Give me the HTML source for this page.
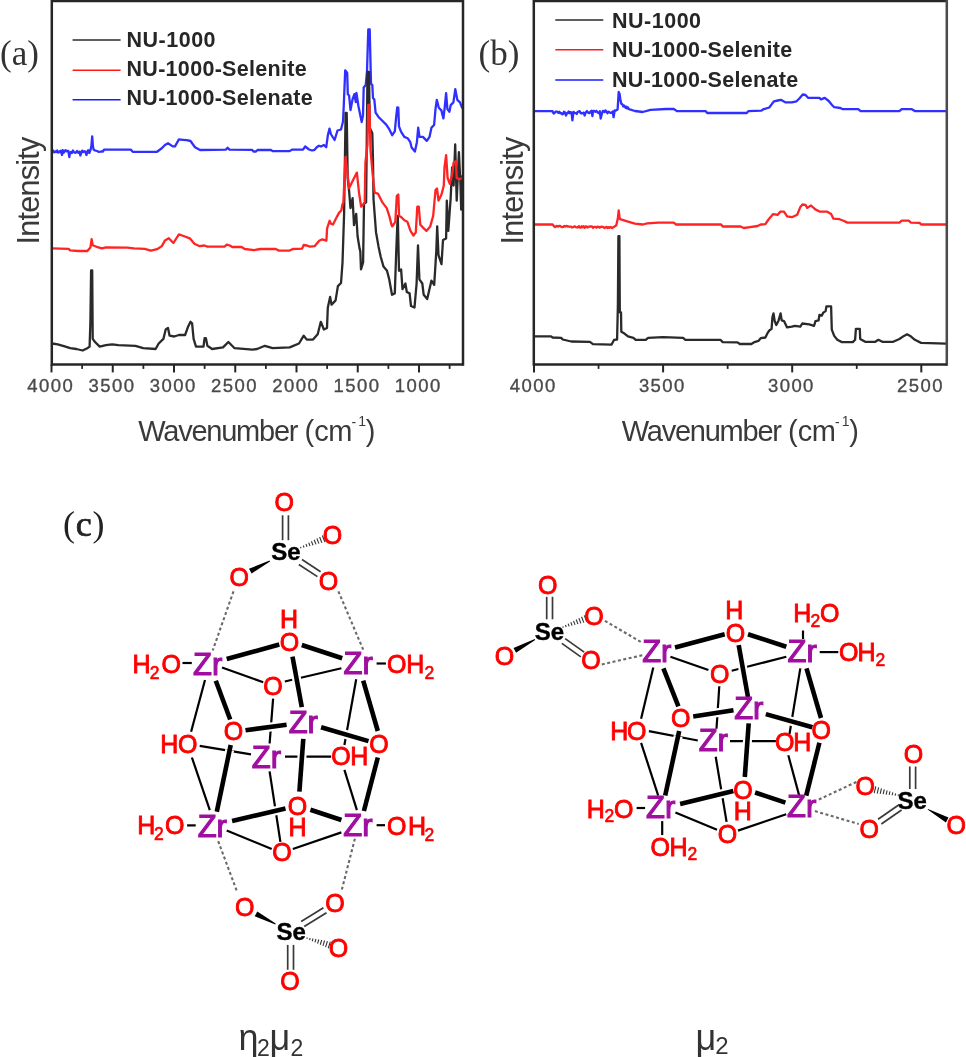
<!DOCTYPE html>
<html><head><meta charset="utf-8"><title>NU-1000 FTIR spectra and selenium binding</title><style>html,body{margin:0;padding:0;background:#fff;}svg{display:block;filter:blur(0.45px);}</style></head><body>
<svg width="966" height="1057" viewBox="0 0 966 1057">
<rect width="966" height="1057" fill="#fff"/>
<polyline points="52.0,150.5 53.0,150.5 54.2,152.3 55.1,151.5 56.0,152.0 57.2,150.4 57.9,152.5 58.9,152.3 59.6,151.4 60.7,150.8 62.0,155.0 62.7,150.2 63.7,152.8 64.7,150.7 65.6,150.2 66.4,151.4 67.4,150.8 68.3,150.8 69.3,157.0 70.0,152.5 71.0,152.0 71.8,153.0 73.0,150.5 73.9,152.2 75.1,152.8 76.0,152.5 77.1,151.0 78.2,152.7 79.4,151.6 80.4,155.5 81.3,152.4 82.2,150.6 83.2,152.1 84.4,151.2 85.3,151.6 86.5,155.0 87.4,151.5 88.1,150.3 89.3,153.0 90.6,149.5 91.4,146.0 92.2,136.3 92.9,146.0 93.6,149.5 95.0,150.5 97.0,151.0 99.0,152.0 101.0,151.5 103.0,151.5 104.0,149.6 130.7,149.6 132.8,151.8 157.0,151.8 161.8,148.3 165.0,145.0 168.0,143.3 172.7,146.4 175.0,146.4 178.9,139.4 183.0,139.8 186.6,140.2 190.5,141.0 195.0,147.2 200.0,150.0 226.0,149.6 227.6,147.7 229.5,149.6 252.0,149.8 253.5,151.5 256.0,151.5 257.5,150.0 271.0,150.0 272.6,151.1 289.7,151.1 292.0,149.6 303.0,149.6 305.2,146.5 309.0,149.5 312.0,150.5 314.6,149.8 317.0,147.0 319.0,145.7 321.0,146.5 323.9,145.0 326.2,147.3 327.8,135.6 329.5,128.6 330.8,134.0 334.6,140.0 337.5,130.5 341.0,129.5 343.0,121.5 343.8,104.8 345.2,70.3 347.2,73.0 347.8,94.2 349.1,95.5 350.5,110.0 352.5,99.5 354.4,94.2 355.8,102.0 356.4,92.8 358.4,106.0 361.7,122.0 363.0,115.4 363.7,87.5 365.7,85.0 367.0,71.7 368.3,29.3 369.7,29.3 371.0,83.6 372.3,85.0 373.0,98.0 374.3,99.5 375.6,112.7 378.3,116.7 382.3,120.7 386.2,124.6 388.9,128.6 392.2,135.2 394.8,131.3 396.2,116.7 397.2,107.5 398.3,107.7 399.0,126.3 401.0,131.6 404.3,136.9 407.6,138.2 410.3,142.2 411.6,147.5 414.9,151.5 416.9,142.2 418.2,127.6 419.5,136.9 422.9,136.9 426.8,140.9 429.5,136.9 431.5,127.6 434.1,125.0 435.5,109.1 436.8,99.8 438.8,107.7 441.4,110.4 443.4,118.4 444.7,107.7 446.1,93.2 447.4,109.1 449.4,111.7 450.7,105.1 453.4,102.4 455.3,89.2 457.3,99.8 460.0,102.4 462.0,107.7" fill="none" stroke="#2f2fff" stroke-width="2.3" stroke-linejoin="round" stroke-linecap="round" />
<polyline points="52.0,343.5 57.8,344.3 65.5,346.6 70.2,348.2 76.4,349.0 82.6,350.5 87.3,348.2 89.6,346.6 90.4,321.8 91.1,270.5 92.2,270.5 92.7,338.9 95.0,342.0 99.7,346.6 105.9,345.1 112.1,344.3 118.3,345.1 135.4,345.8 143.2,348.2 155.6,349.0 158.7,343.5 163.4,338.9 165.7,329.5 168.0,328.0 169.6,335.7 174.2,336.5 178.9,335.0 185.1,335.0 188.2,326.4 190.5,321.8 192.1,323.3 193.6,338.9 196.0,346.6 203.5,346.6 204.6,338.1 205.9,338.1 207.4,345.8 212.1,349.0 223.0,347.4 228.4,342.0 234.6,348.2 252.5,349.7 257.1,349.0 264.9,345.8 272.6,348.2 289.7,347.4 299.0,343.5 303.7,335.7 306.8,339.6 313.0,339.6 317.7,334.2 320.8,321.8 323.9,329.5 327.0,328.0 327.8,307.8 330.1,296.9 331.6,304.7 335.6,300.4 337.9,286.1 341.0,283.0 342.5,262.8 344.1,213.8 345.6,113.0 346.7,113.0 347.7,178.3 349.1,191.0 350.5,208.1 352.6,198.2 354.0,225.1 356.2,213.8 357.6,236.5 359.7,249.2 360.3,251.1 361.0,269.4 363.1,262.4 364.0,203.8 366.1,202.4 367.5,72.0 369.0,72.0 369.8,128.0 372.3,133.3 373.0,160.0 373.5,199.0 376.0,232.2 378.6,246.9 380.7,256.8 383.5,266.6 387.0,270.8 389.2,279.3 392.0,294.8 394.8,293.4 396.2,252.5 397.3,225.1 397.8,216.0 399.0,270.8 401.1,269.4 402.5,289.2 405.4,283.5 406.8,292.0 409.6,293.4 411.0,306.0 414.5,307.5 416.6,283.5 418.0,245.5 419.4,279.3 422.3,283.5 423.7,294.8 427.2,299.0 431.4,280.7 434.2,284.9 436.3,251.1 437.2,226.4 438.5,255.2 441.5,264.2 443.0,240.0 446.1,238.5 446.8,200.6 448.3,230.9 450.6,199.1 452.1,167.3 453.6,185.5 455.2,144.5 456.7,200.6 458.9,152.1 460.5,185.5 461.2,209.7 462.0,176.4" fill="none" stroke="#2a2a2a" stroke-width="2.3" stroke-linejoin="round" stroke-linecap="round" />
<polyline points="52.0,248.4 68.6,248.9 70.2,250.4 78.0,251.0 87.3,251.0 90.4,247.6 91.6,239.1 92.7,245.3 96.6,246.8 102.0,248.4 105.9,247.3 127.6,247.6 133.9,248.4 144.7,248.9 150.9,250.7 157.1,249.2 161.8,246.1 164.9,240.6 168.8,238.3 173.4,243.0 178.9,234.4 183.5,236.0 189.8,238.3 194.4,243.7 199.7,246.2 204.3,245.5 207.4,246.6 224.5,246.6 226.8,244.7 229.9,245.5 232.3,247.0 241.6,247.0 244.7,249.0 254.0,250.1 260.2,249.0 275.7,249.0 278.9,250.6 289.7,250.6 292.8,249.0 302.1,248.6 303.7,245.0 306.8,245.5 309.9,246.6 314.6,246.2 319.2,240.8 322.3,239.3 326.4,240.7 327.1,228.4 329.6,220.8 331.0,223.7 333.0,224.5 337.0,216.6 339.0,212.9 341.3,210.5 342.5,204.3 343.4,202.4 344.1,186.8 345.5,157.0 347.7,175.5 349.1,188.2 352.6,181.1 356.9,172.6 359.0,192.5 361.1,206.7 364.7,202.4 365.4,162.7 367.5,144.3 368.2,105.0 369.4,105.0 370.5,150.0 372.5,172.6 374.6,192.5 378.2,193.9 382.4,202.4 386.7,208.1 389.5,216.6 391.6,225.1 392.3,226.4 395.3,221.8 396.8,196.0 398.3,194.5 399.1,215.8 401.4,217.3 404.4,220.3 407.4,221.8 410.5,230.9 413.5,235.5 415.8,232.4 417.3,206.7 418.8,206.7 420.3,224.8 423.3,227.9 426.4,230.9 430.2,226.4 433.2,215.8 435.5,190.0 437.0,188.5 438.5,200.6 441.5,194.5 443.8,185.5 444.5,167.3 446.1,155.2 447.6,177.9 449.8,183.9 452.1,174.8 453.6,162.7 455.9,161.2 456.7,177.9 459.7,179.4 462.0,177.9" fill="none" stroke="#ff2424" stroke-width="2.3" stroke-linejoin="round" stroke-linecap="round" />
<line x1="51.8" y1="1.0" x2="463.0" y2="1.0" stroke="#262626" stroke-width="2.5"/>
<line x1="463.0" y1="-0.25" x2="463.0" y2="365.65" stroke="#262626" stroke-width="2.5"/>
<line x1="51.8" y1="-0.25" x2="51.8" y2="365.65" stroke="#262626" stroke-width="2.5"/>
<line x1="51.8" y1="364.4" x2="463.0" y2="364.4" stroke="#262626" stroke-width="2.5"/>
<line x1="51.5" y1="364.4" x2="51.5" y2="372.4" stroke="#262626" stroke-width="2.0"/>
<line x1="112.75" y1="364.4" x2="112.75" y2="372.4" stroke="#262626" stroke-width="2.0"/>
<line x1="174.0" y1="364.4" x2="174.0" y2="372.4" stroke="#262626" stroke-width="2.0"/>
<line x1="235.25" y1="364.4" x2="235.25" y2="372.4" stroke="#262626" stroke-width="2.0"/>
<line x1="296.5" y1="364.4" x2="296.5" y2="372.4" stroke="#262626" stroke-width="2.0"/>
<line x1="357.75" y1="364.4" x2="357.75" y2="372.4" stroke="#262626" stroke-width="2.0"/>
<line x1="419.0" y1="364.4" x2="419.0" y2="372.4" stroke="#262626" stroke-width="2.0"/>
<line x1="82.125" y1="364.4" x2="82.125" y2="368.9" stroke="#262626" stroke-width="1.8"/>
<line x1="143.375" y1="364.4" x2="143.375" y2="368.9" stroke="#262626" stroke-width="1.8"/>
<line x1="204.625" y1="364.4" x2="204.625" y2="368.9" stroke="#262626" stroke-width="1.8"/>
<line x1="265.875" y1="364.4" x2="265.875" y2="368.9" stroke="#262626" stroke-width="1.8"/>
<line x1="327.125" y1="364.4" x2="327.125" y2="368.9" stroke="#262626" stroke-width="1.8"/>
<line x1="388.375" y1="364.4" x2="388.375" y2="368.9" stroke="#262626" stroke-width="1.8"/>
<line x1="449.625" y1="364.4" x2="449.625" y2="368.9" stroke="#262626" stroke-width="1.8"/>
<text x="50.7" y="392.3" font-size="18.5" letter-spacing="1.4" text-anchor="middle" fill="#4a4a4a" stroke="#4a4a4a" stroke-width="0.35" font-family="'Liberation Sans', Arial, Helvetica, sans-serif">4000</text>
<text x="111.95" y="392.3" font-size="18.5" letter-spacing="1.4" text-anchor="middle" fill="#4a4a4a" stroke="#4a4a4a" stroke-width="0.35" font-family="'Liberation Sans', Arial, Helvetica, sans-serif">3500</text>
<text x="173.2" y="392.3" font-size="18.5" letter-spacing="1.4" text-anchor="middle" fill="#4a4a4a" stroke="#4a4a4a" stroke-width="0.35" font-family="'Liberation Sans', Arial, Helvetica, sans-serif">3000</text>
<text x="234.45" y="392.3" font-size="18.5" letter-spacing="1.4" text-anchor="middle" fill="#4a4a4a" stroke="#4a4a4a" stroke-width="0.35" font-family="'Liberation Sans', Arial, Helvetica, sans-serif">2500</text>
<text x="295.7" y="392.3" font-size="18.5" letter-spacing="1.4" text-anchor="middle" fill="#4a4a4a" stroke="#4a4a4a" stroke-width="0.35" font-family="'Liberation Sans', Arial, Helvetica, sans-serif">2000</text>
<text x="356.95" y="392.3" font-size="18.5" letter-spacing="1.4" text-anchor="middle" fill="#4a4a4a" stroke="#4a4a4a" stroke-width="0.35" font-family="'Liberation Sans', Arial, Helvetica, sans-serif">1500</text>
<text x="418.2" y="392.3" font-size="18.5" letter-spacing="1.4" text-anchor="middle" fill="#4a4a4a" stroke="#4a4a4a" stroke-width="0.35" font-family="'Liberation Sans', Arial, Helvetica, sans-serif">1000</text>
<line x1="72.6" y1="40.1" x2="120.6" y2="40.1" stroke="#2a2a2a" stroke-width="1.5"/>
<text x="126.5" y="46.5" font-size="21.5" font-weight="bold" letter-spacing="0.5" fill="#262626" font-family="'Liberation Sans', Arial, Helvetica, sans-serif">NU-1000</text>
<line x1="72.6" y1="70.3" x2="120.6" y2="70.3" stroke="#ff1a1a" stroke-width="1.5"/>
<text x="126.5" y="75.9" font-size="21.5" font-weight="bold" letter-spacing="0.3" fill="#262626" font-family="'Liberation Sans', Arial, Helvetica, sans-serif">NU-1000-Selenite</text>
<line x1="72.6" y1="99.7" x2="120.6" y2="99.7" stroke="#1a1aff" stroke-width="1.5"/>
<text x="126.5" y="105.2" font-size="21.5" font-weight="bold" letter-spacing="0.3" fill="#262626" font-family="'Liberation Sans', Arial, Helvetica, sans-serif">NU-1000-Selenate</text>
<text x="0" y="65" font-size="35" fill="#333" font-family="'Liberation Serif', 'Times New Roman', serif">(a)</text>
<text y="440.5" font-size="29" letter-spacing="-1.25" fill="#3a3a3a" font-family="'Liberation Sans', Arial, Helvetica, sans-serif"><tspan x="138.3">Wavenumber</tspan><tspan x="304.6">(</tspan><tspan x="314.2" letter-spacing="-0.4">cm</tspan><tspan x="351.6" dy="-13.5" font-size="14">-</tspan><tspan x="358.2" dy="-1" font-size="14">1</tspan><tspan x="365.8" dy="14.5">)</tspan></text>
<text transform="translate(39.0,191.0) rotate(-90)" font-size="30.6" letter-spacing="-0.75" text-anchor="middle" fill="#3a3a3a" font-family="'Liberation Sans', Arial, Helvetica, sans-serif">Intensity</text>
<polyline points="535.0,111.2 552.6,111.2 553.0,112.6 553.8,113.5 554.5,113.2 555.5,111.7 556.5,111.6 557.4,111.7 558.2,112.8 559.4,111.8 560.2,113.3 561.5,113.1 562.4,114.3 563.1,113.9 564.0,111.8 564.8,112.3 566.0,115.5 567.0,113.2 567.9,112.9 568.7,111.4 569.5,113.3 570.5,112.1 571.5,112.5 572.4,120.4 573.5,111.9 574.6,112.7 575.8,113.2 576.7,114.0 577.4,112.3 578.6,111.5 579.6,111.1 580.7,113.2 581.7,113.5 582.6,113.0 583.7,112.6 584.6,115.5 585.9,112.2 587.0,111.0 588.1,112.7 589.4,113.2 590.3,111.9 591.4,110.8 592.4,116.0 593.1,110.8 594.3,111.0 595.1,111.8 596.4,110.8 597.3,112.2 598.6,113.0 599.8,111.3 600.7,118.6 602.0,113.3 602.8,111.0 603.6,111.1 604.6,112.1 605.4,110.4 606.4,111.4 607.4,113.2 608.6,111.8 609.6,112.3 610.4,112.9 611.5,112.8 612.7,111.4 613.6,117.2 614.7,110.3 615.5,110.7 617.6,109.5 618.7,92.0 619.5,93.5 620.3,99.0 621.2,103.6 622.4,104.5 623.3,106.5 624.2,105.5 625.5,107.8 626.5,106.6 627.2,108.5 628.0,107.5 628.9,109.2 634.9,111.0 642.7,112.0 650.5,109.8 666.0,109.0 673.8,109.0 676.9,111.1 705.6,111.1 707.2,113.0 746.8,113.0 748.3,111.1 761.5,110.6 763.9,109.1 769.3,107.5 771.6,104.4 774.0,101.3 777.8,100.5 780.9,99.8 785.6,102.4 791.8,102.4 796.5,101.3 799.6,98.2 802.7,94.5 805.5,95.0 808.0,97.8 819.4,97.9 821.0,99.4 824.8,97.9 828.7,101.0 831.8,104.8 834.2,107.2 840.4,108.0 842.7,109.2 858.2,109.2 860.6,111.1 899.4,111.1 901.7,109.2 911.8,109.2 914.9,111.1 946.0,111.1" fill="none" stroke="#2f2fff" stroke-width="2.3" stroke-linejoin="round" stroke-linecap="round" />
<polyline points="535.0,336.4 551.1,336.4 552.6,337.5 561.2,337.9 562.7,339.5 571.3,341.5 589.9,341.8 593.0,344.1 611.6,344.6 614.0,339.9 617.1,339.5 617.9,304.5 618.4,236.2 619.4,236.2 619.8,312.3 621.0,312.3 621.3,331.7 624.1,333.3 628.0,336.4 633.4,337.9 635.7,339.9 645.8,339.9 648.1,337.9 662.9,337.1 683.1,337.9 685.4,339.8 720.4,339.8 722.7,342.1 737.5,342.4 739.8,344.0 751.4,344.0 754.5,342.1 758.4,340.9 760.7,338.2 765.4,337.5 767.7,332.8 769.3,330.5 771.6,328.9 772.4,317.3 773.5,313.4 774.7,321.1 776.3,325.0 778.6,320.4 780.6,313.4 781.7,320.4 784.0,321.1 787.1,327.4 791.8,326.6 794.9,325.8 800.3,326.6 802.3,323.5 809.3,324.3 814.0,325.8 815.5,321.1 818.6,320.4 819.4,314.9 821.7,315.7 823.3,312.6 825.6,311.1 826.4,306.4 831.1,306.4 831.8,329.7 834.2,335.9 837.3,339.8 841.9,342.1 852.8,342.1 855.1,339.8 855.9,328.9 859.8,328.9 860.2,339.0 865.2,341.8 875.3,341.8 878.4,339.8 882.3,341.8 893.2,341.8 899.4,339.0 904.0,335.9 907.1,334.3 910.2,335.9 914.9,339.8 921.1,342.9 946.0,343.7" fill="none" stroke="#2a2a2a" stroke-width="2.3" stroke-linejoin="round" stroke-linecap="round" />
<polyline points="535.0,224.5 552.6,224.5 554.0,226.3 555.0,227.0 556.0,226.4 557.1,225.9 558.1,226.6 559.3,225.9 560.1,225.9 561.3,226.8 562.0,227.2 563.3,226.8 564.4,226.0 565.1,226.6 565.8,226.1 566.7,225.9 567.7,226.5 568.9,226.7 569.9,226.7 571.0,226.6 571.9,227.5 573.2,227.2 574.3,226.5 575.2,226.5 575.9,227.2 576.9,227.3 577.8,227.5 579.0,226.1 579.8,227.5 580.8,227.6 581.7,226.3 582.8,227.3 583.7,226.3 584.6,227.7 585.7,226.4 586.6,226.4 587.3,227.5 588.1,227.1 589.1,226.6 590.2,226.5 591.3,226.5 592.3,226.7 593.1,227.8 594.3,226.9 595.5,226.8 596.5,227.7 597.6,226.6 598.9,226.8 599.7,227.7 600.6,227.0 601.4,226.7 602.4,226.9 603.5,227.2 604.4,228.0 605.4,227.5 606.7,226.9 607.4,228.0 608.6,227.1 609.4,227.8 610.7,227.0 612.0,228.1 613.0,227.4 613.8,226.9 616.3,225.3 617.9,218.0 618.7,210.5 619.5,217.0 619.9,219.1 622.5,219.8 627.2,221.4 634.9,223.7 642.7,224.5 647.4,223.3 658.2,222.6 673.8,222.6 676.1,224.5 721.1,224.5 722.7,226.5 740.6,226.5 743.7,228.0 748.3,227.3 757.6,226.0 760.7,224.5 765.4,224.2 768.5,219.5 773.2,214.1 777.8,214.8 780.2,211.7 784.0,211.7 787.1,216.4 791.8,217.2 797.2,214.8 800.3,207.1 802.5,204.5 805.5,204.8 807.2,207.9 811.0,205.5 815.3,209.4 820.0,211.7 827.2,211.7 831.1,214.1 833.4,218.7 839.6,219.2 843.5,220.7 847.4,222.6 899.4,222.6 901.7,220.7 908.7,220.7 911.0,222.6 919.6,222.9 921.1,224.5 946.0,224.5" fill="none" stroke="#ff2424" stroke-width="2.3" stroke-linejoin="round" stroke-linecap="round" />
<line x1="533.8" y1="1.0" x2="946.8" y2="1.0" stroke="#262626" stroke-width="2.5"/>
<line x1="946.8" y1="-0.25" x2="946.8" y2="365.65" stroke="#4a4a4a" stroke-width="2.5"/>
<line x1="533.8" y1="-0.25" x2="533.8" y2="365.65" stroke="#262626" stroke-width="2.5"/>
<line x1="533.8" y1="364.4" x2="946.8" y2="364.4" stroke="#262626" stroke-width="2.5"/>
<line x1="534.0" y1="364.4" x2="534.0" y2="372.4" stroke="#262626" stroke-width="2.0"/>
<line x1="663.1" y1="364.4" x2="663.1" y2="372.4" stroke="#262626" stroke-width="2.0"/>
<line x1="792.2" y1="364.4" x2="792.2" y2="372.4" stroke="#262626" stroke-width="2.0"/>
<line x1="921.3" y1="364.4" x2="921.3" y2="372.4" stroke="#262626" stroke-width="2.0"/>
<line x1="598.55" y1="364.4" x2="598.55" y2="368.9" stroke="#262626" stroke-width="1.8"/>
<line x1="727.65" y1="364.4" x2="727.65" y2="368.9" stroke="#262626" stroke-width="1.8"/>
<line x1="856.75" y1="364.4" x2="856.75" y2="368.9" stroke="#262626" stroke-width="1.8"/>
<text x="533.2" y="392.3" font-size="18.5" letter-spacing="1.4" text-anchor="middle" fill="#4a4a4a" stroke="#4a4a4a" stroke-width="0.35" font-family="'Liberation Sans', Arial, Helvetica, sans-serif">4000</text>
<text x="662.3000000000001" y="392.3" font-size="18.5" letter-spacing="1.4" text-anchor="middle" fill="#4a4a4a" stroke="#4a4a4a" stroke-width="0.35" font-family="'Liberation Sans', Arial, Helvetica, sans-serif">3500</text>
<text x="791.4000000000001" y="392.3" font-size="18.5" letter-spacing="1.4" text-anchor="middle" fill="#4a4a4a" stroke="#4a4a4a" stroke-width="0.35" font-family="'Liberation Sans', Arial, Helvetica, sans-serif">3000</text>
<text x="920.5" y="392.3" font-size="18.5" letter-spacing="1.4" text-anchor="middle" fill="#4a4a4a" stroke="#4a4a4a" stroke-width="0.35" font-family="'Liberation Sans', Arial, Helvetica, sans-serif">2500</text>
<line x1="555.3" y1="20.1" x2="603.3" y2="20.1" stroke="#2a2a2a" stroke-width="1.5"/>
<text x="612.0" y="28.0" font-size="21.5" font-weight="bold" letter-spacing="0.5" fill="#262626" font-family="'Liberation Sans', Arial, Helvetica, sans-serif">NU-1000</text>
<line x1="555.3" y1="49.7" x2="603.3" y2="49.7" stroke="#ff1a1a" stroke-width="1.5"/>
<text x="612.0" y="57.3" font-size="21.5" font-weight="bold" letter-spacing="0.3" fill="#262626" font-family="'Liberation Sans', Arial, Helvetica, sans-serif">NU-1000-Selenite</text>
<line x1="555.3" y1="80.0" x2="603.3" y2="80.0" stroke="#1a1aff" stroke-width="1.5"/>
<text x="612.0" y="86.6" font-size="21.5" font-weight="bold" letter-spacing="0.3" fill="#262626" font-family="'Liberation Sans', Arial, Helvetica, sans-serif">NU-1000-Selenate</text>
<text x="478.5" y="65" font-size="35" fill="#333" font-family="'Liberation Serif', 'Times New Roman', serif">(b)</text>
<text y="440.5" font-size="29" letter-spacing="-1.25" fill="#3a3a3a" font-family="'Liberation Sans', Arial, Helvetica, sans-serif"><tspan x="621.8">Wavenumber</tspan><tspan x="788.1">(</tspan><tspan x="797.7" letter-spacing="-0.4">cm</tspan><tspan x="835.1" dy="-13.5" font-size="14">-</tspan><tspan x="841.7" dy="-1" font-size="14">1</tspan><tspan x="849.3" dy="14.5">)</tspan></text>
<text transform="translate(522.6,191.0) rotate(-90)" font-size="30.6" letter-spacing="-0.75" text-anchor="middle" fill="#3a3a3a" font-family="'Liberation Sans', Arial, Helvetica, sans-serif">Intensity</text>
<line x1="282.6" y1="515.3" x2="282.6" y2="540.2" stroke="#3a3a3a" stroke-width="1.7" stroke-linecap="butt" />
<line x1="288.4" y1="515.3" x2="288.4" y2="540.2" stroke="#3a3a3a" stroke-width="1.7" stroke-linecap="butt" />
<line x1="301.07005669553865" y1="548.299692347532" x2="300.52994330446137" y2="546.9003076524681" stroke="#333" stroke-width="1.1" stroke-linecap="butt" />
<line x1="304.0438326809939" y1="547.520384673484" x2="303.2561673190062" y2="545.479615326516" stroke="#333" stroke-width="1.1" stroke-linecap="butt" />
<line x1="307.01760866644906" y1="546.7410769994361" x2="305.98239133355094" y2="544.0589230005638" stroke="#333" stroke-width="1.1" stroke-linecap="butt" />
<line x1="309.9913846519043" y1="545.9617693253883" x2="308.70861534809575" y2="542.6382306746116" stroke="#333" stroke-width="1.1" stroke-linecap="butt" />
<line x1="312.96516063735953" y1="545.1824616513405" x2="311.43483936264056" y2="541.2175383486596" stroke="#333" stroke-width="1.1" stroke-linecap="butt" />
<line x1="315.9389366228147" y1="544.4031539772926" x2="314.1610633771853" y2="539.7968460227074" stroke="#333" stroke-width="1.1" stroke-linecap="butt" />
<line x1="318.91271260826994" y1="543.6238463032447" x2="316.8872873917301" y2="538.3761536967553" stroke="#333" stroke-width="1.1" stroke-linecap="butt" />
<line x1="321.8864885937251" y1="542.8445386291969" x2="319.6135114062749" y2="536.955461370803" stroke="#333" stroke-width="1.1" stroke-linecap="butt" />
<line x1="324.86026457918035" y1="542.065230955149" x2="322.3397354208197" y2="535.5347690448509" stroke="#333" stroke-width="1.1" stroke-linecap="butt" />
<line x1="298.8094659052544" y1="564.4249126362514" x2="317.4094659052544" y2="576.6249126362515" stroke="#3a3a3a" stroke-width="1.7" stroke-linecap="butt" />
<line x1="301.99053409474556" y1="559.5750873637486" x2="320.5905340947456" y2="571.7750873637486" stroke="#3a3a3a" stroke-width="1.7" stroke-linecap="butt" />
<polygon points="269.6,560.6 249.0,568.7 251.6,573.5 270.0,561.4" fill="#000"/>
<line x1="233.5" y1="591.3" x2="212.7" y2="650.5" stroke="#6a6a6a" stroke-width="2.1" stroke-linecap="butt" stroke-dasharray="3 2.5"/>
<line x1="338.4" y1="591.3" x2="363.2" y2="649.7" stroke="#6a6a6a" stroke-width="2.1" stroke-linecap="butt" stroke-dasharray="3 2.5"/>
<line x1="222" y1="667.5" x2="263.2" y2="682.3" stroke="#000" stroke-width="2.2" stroke-linecap="butt" />
<line x1="284.8" y1="681.5" x2="341.4" y2="668.3" stroke="#000" stroke-width="2.2" stroke-linecap="butt" />
<line x1="205" y1="680" x2="191.1" y2="731.8" stroke="#000" stroke-width="2.2" stroke-linecap="butt" />
<line x1="356.2" y1="679.2" x2="344.4" y2="745" stroke="#000" stroke-width="2.2" stroke-linecap="butt" />
<line x1="273.1" y1="698.6" x2="269.6" y2="743.5" stroke="#000" stroke-width="2.2" stroke-linecap="butt" />
<line x1="199.7" y1="745.8" x2="251" y2="754.3" stroke="#000" stroke-width="2.2" stroke-linecap="butt" />
<line x1="285" y1="756.7" x2="331.2" y2="756.7" stroke="#000" stroke-width="2.2" stroke-linecap="butt" />
<line x1="191.9" y1="757.5" x2="209.8" y2="810.2" stroke="#000" stroke-width="2.2" stroke-linecap="butt" />
<line x1="344.4" y1="769.9" x2="356.9" y2="810.2" stroke="#000" stroke-width="2.2" stroke-linecap="butt" />
<line x1="269.6" y1="771.4" x2="280.4" y2="841.8" stroke="#000" stroke-width="2.2" stroke-linecap="butt" />
<line x1="226.7" y1="830.4" x2="271.7" y2="849" stroke="#000" stroke-width="2.2" stroke-linecap="butt" />
<line x1="292.8" y1="849" x2="341.4" y2="832.4" stroke="#000" stroke-width="2.2" stroke-linecap="butt" />
<line x1="231.52020603080632" y1="657.671235980101" x2="274.4797939691937" y2="645.828764019899" stroke="#fff" stroke-width="9.0" stroke-linecap="butt" />
<line x1="226.7" y1="659" x2="279.3" y2="644.5" stroke="#000" stroke-width="4.6" stroke-linecap="butt" />
<line x1="306.5527438348028" y1="646.5528766985" x2="337.4472561651972" y2="656.6471233015001" stroke="#fff" stroke-width="9.0" stroke-linecap="butt" />
<line x1="301.8" y1="645" x2="342.2" y2="658.2" stroke="#000" stroke-width="4.6" stroke-linecap="butt" />
<line x1="293.4073019605929" y1="661.61699127031" x2="300.8926980394071" y2="702.1830087296901" stroke="#fff" stroke-width="9.0" stroke-linecap="butt" />
<line x1="292.5" y1="656.7" x2="301.8" y2="707.1" stroke="#000" stroke-width="4.6" stroke-linecap="butt" />
<line x1="217.5397192512961" y1="685.3875768715478" x2="228.4602807487039" y2="714.8124231284522" stroke="#fff" stroke-width="9.0" stroke-linecap="butt" />
<line x1="215.8" y1="680.7" x2="230.2" y2="719.5" stroke="#000" stroke-width="4.6" stroke-linecap="butt" />
<line x1="364.5937669634159" y1="685.5018135794396" x2="376.4062330365841" y2="726.1981864205604" stroke="#fff" stroke-width="9.0" stroke-linecap="butt" />
<line x1="363.2" y1="680.7" x2="377.8" y2="731" stroke="#000" stroke-width="4.6" stroke-linecap="butt" />
<line x1="250.45582300783104" y1="729.6368120062513" x2="281.644176992169" y2="725.4631879937486" stroke="#fff" stroke-width="9.0" stroke-linecap="butt" />
<line x1="245.5" y1="730.3" x2="286.6" y2="724.8" stroke="#000" stroke-width="4.6" stroke-linecap="butt" />
<line x1="325.8979542520212" y1="728.606995023272" x2="363.70204574797884" y2="739.693004976728" stroke="#fff" stroke-width="9.0" stroke-linecap="butt" />
<line x1="321.1" y1="727.2" x2="368.5" y2="741.1" stroke="#000" stroke-width="4.6" stroke-linecap="butt" />
<line x1="229.68139929771638" y1="749.8951458210463" x2="217.81860070228362" y2="806.9048541789537" stroke="#fff" stroke-width="9.0" stroke-linecap="butt" />
<line x1="230.7" y1="745" x2="216.8" y2="811.8" stroke="#000" stroke-width="4.6" stroke-linecap="butt" />
<line x1="302.93168518425165" y1="743.7864159670548" x2="299.76831481574834" y2="786.6135840329451" stroke="#fff" stroke-width="9.0" stroke-linecap="butt" />
<line x1="303.3" y1="738.8" x2="299.4" y2="791.6" stroke="#000" stroke-width="4.6" stroke-linecap="butt" />
<line x1="376.54267803301354" y1="762.3393327506313" x2="365.15732196698644" y2="806.1606672493687" stroke="#fff" stroke-width="9.0" stroke-linecap="butt" />
<line x1="377.8" y1="757.5" x2="363.9" y2="811" stroke="#000" stroke-width="4.6" stroke-linecap="butt" />
<line x1="236.970414240646" y1="819.8690423860672" x2="280.629585759354" y2="809.7309576139328" stroke="#fff" stroke-width="9.0" stroke-linecap="butt" />
<line x1="232.1" y1="821" x2="285.5" y2="808.6" stroke="#000" stroke-width="4.6" stroke-linecap="butt" />
<line x1="315.1449448950431" y1="811.2765462070628" x2="336.65505510495683" y2="818.4234537929373" stroke="#fff" stroke-width="9.0" stroke-linecap="butt" />
<line x1="310.4" y1="809.7" x2="341.4" y2="820" stroke="#000" stroke-width="4.6" stroke-linecap="butt" />
<line x1="218.2" y1="841.2" x2="236.8" y2="891" stroke="#6a6a6a" stroke-width="2.1" stroke-linecap="butt" stroke-dasharray="3 2.5"/>
<line x1="354.9" y1="838.7" x2="341.4" y2="891.4" stroke="#6a6a6a" stroke-width="2.1" stroke-linecap="butt" stroke-dasharray="3 2.5"/>
<polygon points="275.7,923.6 257.3,911.5 254.7,916.3 275.3,924.4" fill="#000"/>
<line x1="304.2260476680549" y1="926.4660045650453" x2="326.5260476680549" y2="912.6660045650453" stroke="#3a3a3a" stroke-width="1.7" stroke-linecap="butt" />
<line x1="301.1739523319451" y1="921.5339954349547" x2="323.4739523319451" y2="907.7339954349547" stroke="#3a3a3a" stroke-width="1.7" stroke-linecap="butt" />
<line x1="306.8833024840918" y1="938.9180126646511" x2="307.31669751590823" y2="937.481987335349" stroke="#333" stroke-width="1.1" stroke-linecap="butt" />
<line x1="309.55898278930056" y1="940.084601802616" x2="310.19101721069944" y2="937.990398197384" stroke="#333" stroke-width="1.1" stroke-linecap="butt" />
<line x1="312.23466309450936" y1="941.2511909405811" x2="313.0653369054907" y2="938.4988090594189" stroke="#333" stroke-width="1.1" stroke-linecap="butt" />
<line x1="314.9103433997181" y1="942.4177800785461" x2="315.9396566002819" y2="939.0072199214538" stroke="#333" stroke-width="1.1" stroke-linecap="butt" />
<line x1="317.58602370492684" y1="943.5843692165112" x2="318.81397629507325" y2="939.5156307834887" stroke="#333" stroke-width="1.1" stroke-linecap="butt" />
<line x1="320.2617040101356" y1="944.7509583544762" x2="321.68829598986446" y2="940.0240416455239" stroke="#333" stroke-width="1.1" stroke-linecap="butt" />
<line x1="322.93738431534433" y1="945.9175474924413" x2="324.56261568465567" y2="940.5324525075588" stroke="#333" stroke-width="1.1" stroke-linecap="butt" />
<line x1="325.61306462055313" y1="947.0841366304063" x2="327.43693537944694" y2="941.0408633695937" stroke="#333" stroke-width="1.1" stroke-linecap="butt" />
<line x1="328.2887449257618" y1="948.2507257683712" x2="330.3112550742382" y2="941.5492742316287" stroke="#333" stroke-width="1.1" stroke-linecap="butt" />
<line x1="287.70000000000005" y1="944.9" x2="287.70000000000005" y2="969.8" stroke="#3a3a3a" stroke-width="1.7" stroke-linecap="butt" />
<line x1="293.5" y1="944.9" x2="293.5" y2="969.8" stroke="#3a3a3a" stroke-width="1.7" stroke-linecap="butt" />
<line x1="182.5" y1="663.0" x2="191.8" y2="663.0" stroke="#000" stroke-width="2.2" stroke-linecap="butt" />
<line x1="376.6" y1="663.5" x2="385.9" y2="663.5" stroke="#000" stroke-width="2.2" stroke-linecap="butt" />
<line x1="187.1" y1="825.4" x2="195.7" y2="825.4" stroke="#000" stroke-width="2.2" stroke-linecap="butt" />
<line x1="376.6" y1="825.2" x2="385.0" y2="825.2" stroke="#000" stroke-width="2.2" stroke-linecap="butt" />
<text x="284.3" y="511.1" font-size="25" text-anchor="middle" fill="#ff0000" stroke="#ff0000" stroke-width="0.85" font-family="'Liberation Sans', Arial, Helvetica, sans-serif">O</text>
<text x="285.9" y="559.7" font-size="24" font-weight="bold" text-anchor="middle" fill="#000" stroke="#000" stroke-width="0.4" font-family="'Liberation Sans', Arial, Helvetica, sans-serif">Se</text>
<text x="332.4" y="543.8" font-size="25" text-anchor="middle" fill="#ff0000" stroke="#ff0000" stroke-width="0.85" font-family="'Liberation Sans', Arial, Helvetica, sans-serif">O</text>
<text x="328.4" y="589.5" font-size="25" text-anchor="middle" fill="#ff0000" stroke="#ff0000" stroke-width="0.85" font-family="'Liberation Sans', Arial, Helvetica, sans-serif">O</text>
<text x="239.2" y="585.5" font-size="25" text-anchor="middle" fill="#ff0000" stroke="#ff0000" stroke-width="0.85" font-family="'Liberation Sans', Arial, Helvetica, sans-serif">O</text>
<text x="289.0" y="628.0" font-size="25" text-anchor="middle" fill="#ff0000" stroke="#ff0000" stroke-width="0.85" font-family="'Liberation Sans', Arial, Helvetica, sans-serif">H</text>
<text x="289.5" y="651.0" font-size="25" text-anchor="middle" fill="#ff0000" stroke="#ff0000" stroke-width="0.85" font-family="'Liberation Sans', Arial, Helvetica, sans-serif">O</text>
<text x="207.7" y="674.5" font-size="31" text-anchor="middle" fill="#a00fa0" font-family="'Liberation Sans', Arial, Helvetica, sans-serif" stroke="#a00fa0" stroke-width="1.15">Zr</text>
<text font-size="25" fill="#ff0000" stroke="#ff0000" stroke-width="0.85" font-family="'Liberation Sans', Arial, Helvetica, sans-serif" text-anchor="middle"><tspan x="141.65" y="672.7">H</tspan><tspan x="154.7" y="678.7" font-size="17.5" stroke-width="0.6">2</tspan><tspan x="171.2" y="672.7">O</tspan></text>
<text x="358.1" y="674.3" font-size="31" text-anchor="middle" fill="#a00fa0" font-family="'Liberation Sans', Arial, Helvetica, sans-serif" stroke="#a00fa0" stroke-width="1.15">Zr</text>
<text font-size="25" fill="#ff0000" stroke="#ff0000" stroke-width="0.85" font-family="'Liberation Sans', Arial, Helvetica, sans-serif" text-anchor="middle"><tspan x="396.8" y="672.5">O</tspan><tspan x="415.4" y="672.5">H</tspan><tspan x="429.35" y="678.5" font-size="17.5" stroke-width="0.6">2</tspan></text>
<text x="273.0" y="694.5" font-size="25" text-anchor="middle" fill="#ff0000" stroke="#ff0000" stroke-width="0.85" font-family="'Liberation Sans', Arial, Helvetica, sans-serif">O</text>
<text x="233.5" y="739.6" font-size="25" text-anchor="middle" fill="#ff0000" stroke="#ff0000" stroke-width="0.85" font-family="'Liberation Sans', Arial, Helvetica, sans-serif">O</text>
<text x="303.3" y="733.4" font-size="31" text-anchor="middle" fill="#a00fa0" font-family="'Liberation Sans', Arial, Helvetica, sans-serif" stroke="#a00fa0" stroke-width="1.15">Zr</text>
<text font-size="25" fill="#ff0000" stroke="#ff0000" stroke-width="0.85" font-family="'Liberation Sans', Arial, Helvetica, sans-serif" text-anchor="middle"><tspan x="169.4" y="752.5">H</tspan><tspan x="187.65" y="752.5">O</tspan></text>
<text x="266.4" y="768.3" font-size="31" text-anchor="middle" fill="#a00fa0" font-family="'Liberation Sans', Arial, Helvetica, sans-serif" stroke="#a00fa0" stroke-width="1.15">Zr</text>
<text font-size="25" fill="#ff0000" stroke="#ff0000" stroke-width="0.85" font-family="'Liberation Sans', Arial, Helvetica, sans-serif" text-anchor="middle"><tspan x="340.95" y="765.0">O</tspan><tspan x="359.2" y="765.0">H</tspan></text>
<text x="379.0" y="752.5" font-size="25" text-anchor="middle" fill="#ff0000" stroke="#ff0000" stroke-width="0.85" font-family="'Liberation Sans', Arial, Helvetica, sans-serif">O</text>
<text x="297.5" y="814.5" font-size="25" text-anchor="middle" fill="#ff0000" stroke="#ff0000" stroke-width="0.85" font-family="'Liberation Sans', Arial, Helvetica, sans-serif">O</text>
<text x="297.5" y="836.3" font-size="25" text-anchor="middle" fill="#ff0000" stroke="#ff0000" stroke-width="0.85" font-family="'Liberation Sans', Arial, Helvetica, sans-serif">H</text>
<text x="212.3" y="836.6" font-size="31" text-anchor="middle" fill="#a00fa0" font-family="'Liberation Sans', Arial, Helvetica, sans-serif" stroke="#a00fa0" stroke-width="1.15">Zr</text>
<text font-size="25" fill="#ff0000" stroke="#ff0000" stroke-width="0.85" font-family="'Liberation Sans', Arial, Helvetica, sans-serif" text-anchor="middle"><tspan x="146.35" y="834.3">H</tspan><tspan x="158.75" y="840.3" font-size="17.5" stroke-width="0.6">2</tspan><tspan x="174.65" y="834.3">O</tspan></text>
<text x="358.0" y="835.5" font-size="31" text-anchor="middle" fill="#a00fa0" font-family="'Liberation Sans', Arial, Helvetica, sans-serif" stroke="#a00fa0" stroke-width="1.15">Zr</text>
<text font-size="25" fill="#ff0000" stroke="#ff0000" stroke-width="0.85" font-family="'Liberation Sans', Arial, Helvetica, sans-serif" text-anchor="middle"><tspan x="396.8" y="834.5">O</tspan><tspan x="417.0" y="834.5">H</tspan><tspan x="429.45" y="840.5" font-size="17.5" stroke-width="0.6">2</tspan></text>
<text x="282.0" y="861.0" font-size="25" text-anchor="middle" fill="#ff0000" stroke="#ff0000" stroke-width="0.85" font-family="'Liberation Sans', Arial, Helvetica, sans-serif">O</text>
<text x="244.8" y="915.5" font-size="25" text-anchor="middle" fill="#ff0000" stroke="#ff0000" stroke-width="0.85" font-family="'Liberation Sans', Arial, Helvetica, sans-serif">O</text>
<text x="335.0" y="911.5" font-size="25" text-anchor="middle" fill="#ff0000" stroke="#ff0000" stroke-width="0.85" font-family="'Liberation Sans', Arial, Helvetica, sans-serif">O</text>
<text x="291.3" y="940.2" font-size="24" font-weight="bold" text-anchor="middle" fill="#000" stroke="#000" stroke-width="0.4" font-family="'Liberation Sans', Arial, Helvetica, sans-serif">Se</text>
<text x="338.4" y="957.2" font-size="25" text-anchor="middle" fill="#ff0000" stroke="#ff0000" stroke-width="0.85" font-family="'Liberation Sans', Arial, Helvetica, sans-serif">O</text>
<text x="290.0" y="990.2" font-size="25" text-anchor="middle" fill="#ff0000" stroke="#ff0000" stroke-width="0.85" font-family="'Liberation Sans', Arial, Helvetica, sans-serif">O</text>
<line x1="546.7" y1="596.8" x2="546.7" y2="619.3" stroke="#3a3a3a" stroke-width="1.7" stroke-linecap="butt" />
<line x1="552.5" y1="596.8" x2="552.5" y2="619.3" stroke="#3a3a3a" stroke-width="1.7" stroke-linecap="butt" />
<line x1="563.2650504265389" y1="627.8016040702502" x2="562.7349495734611" y2="626.3983959297499" stroke="#333" stroke-width="1.1" stroke-linecap="butt" />
<line x1="566.1990318720359" y1="627.0606726024481" x2="565.4259681279641" y2="625.0143273975519" stroke="#333" stroke-width="1.1" stroke-linecap="butt" />
<line x1="569.1330133175329" y1="626.319741134646" x2="568.1169866824671" y2="623.630258865354" stroke="#333" stroke-width="1.1" stroke-linecap="butt" />
<line x1="572.0669947630299" y1="625.578809666844" x2="570.8080052369701" y2="622.246190333156" stroke="#333" stroke-width="1.1" stroke-linecap="butt" />
<line x1="575.0009762085269" y1="624.837878199042" x2="573.4990237914731" y2="620.862121800958" stroke="#333" stroke-width="1.1" stroke-linecap="butt" />
<line x1="577.934957654024" y1="624.09694673124" x2="576.190042345976" y2="619.47805326876" stroke="#333" stroke-width="1.1" stroke-linecap="butt" />
<line x1="580.868939099521" y1="623.3560152634379" x2="578.881060900479" y2="618.0939847365621" stroke="#333" stroke-width="1.1" stroke-linecap="butt" />
<line x1="583.802920545018" y1="622.6150837956359" x2="581.572079454982" y2="616.7099162043642" stroke="#333" stroke-width="1.1" stroke-linecap="butt" />
<line x1="586.736901990515" y1="621.8741523278339" x2="584.263098009485" y2="615.3258476721661" stroke="#333" stroke-width="1.1" stroke-linecap="butt" />
<line x1="561.8202993166514" y1="643.3640231839722" x2="580.8202993166514" y2="656.8640231839722" stroke="#3a3a3a" stroke-width="1.7" stroke-linecap="butt" />
<line x1="565.1797006833486" y1="638.6359768160278" x2="584.1797006833486" y2="652.1359768160278" stroke="#3a3a3a" stroke-width="1.7" stroke-linecap="butt" />
<polygon points="534.8,639.1 513.5,648.0 516.1,652.8 535.2,639.9" fill="#000"/>
<line x1="604.9" y1="620.9" x2="642.4" y2="642.8" stroke="#6a6a6a" stroke-width="2.1" stroke-linecap="butt" stroke-dasharray="3 2.5"/>
<line x1="601.8" y1="664.4" x2="642.4" y2="655.2" stroke="#6a6a6a" stroke-width="2.1" stroke-linecap="butt" stroke-dasharray="3 2.5"/>
<line x1="670.4" y1="656.8" x2="708.4" y2="670" stroke="#000" stroke-width="2.2" stroke-linecap="butt" />
<line x1="731.7" y1="670.7" x2="786.3" y2="656.8" stroke="#000" stroke-width="2.2" stroke-linecap="butt" />
<line x1="653.3" y1="667.6" x2="641.1" y2="718.7" stroke="#000" stroke-width="2.2" stroke-linecap="butt" />
<line x1="800.3" y1="668.4" x2="789.5" y2="734" stroke="#000" stroke-width="2.2" stroke-linecap="butt" />
<line x1="719.3" y1="686.3" x2="716.5" y2="728.8" stroke="#000" stroke-width="2.2" stroke-linecap="butt" />
<line x1="648.9" y1="731.1" x2="697.8" y2="740.5" stroke="#000" stroke-width="2.2" stroke-linecap="butt" />
<line x1="730" y1="741.2" x2="775.9" y2="741.2" stroke="#000" stroke-width="2.2" stroke-linecap="butt" />
<line x1="641.1" y1="742.8" x2="658.2" y2="795.6" stroke="#000" stroke-width="2.2" stroke-linecap="butt" />
<line x1="788.3" y1="755.2" x2="799.2" y2="795.6" stroke="#000" stroke-width="2.2" stroke-linecap="butt" />
<line x1="715.7" y1="756.8" x2="726.6" y2="821.9" stroke="#000" stroke-width="2.2" stroke-linecap="butt" />
<line x1="675.4" y1="812.6" x2="717" y2="829.8" stroke="#000" stroke-width="2.2" stroke-linecap="butt" />
<line x1="738" y1="830.6" x2="786.2" y2="814.3" stroke="#000" stroke-width="2.2" stroke-linecap="butt" />
<line x1="803" y1="630.5" x2="803" y2="639" stroke="#000" stroke-width="2.2" stroke-linecap="butt" />
<line x1="819.7" y1="652.1" x2="838.3" y2="652.1" stroke="#000" stroke-width="2.2" stroke-linecap="butt" />
<line x1="662.2" y1="821.1" x2="662.2" y2="835.1" stroke="#000" stroke-width="2.2" stroke-linecap="butt" />
<line x1="636.6" y1="808" x2="645.1" y2="808" stroke="#000" stroke-width="2.2" stroke-linecap="butt" />
<line x1="679.8324633282217" y1="646.2165288544763" x2="719.8675366717783" y2="635.5834711455236" stroke="#fff" stroke-width="9.0" stroke-linecap="butt" />
<line x1="675" y1="647.5" x2="724.7" y2="634.3" stroke="#000" stroke-width="4.6" stroke-linecap="butt" />
<line x1="752.7569015311664" y1="635.8400934461217" x2="781.5430984688336" y2="645.1599065538783" stroke="#fff" stroke-width="9.0" stroke-linecap="butt" />
<line x1="748" y1="634.3" x2="786.3" y2="646.7" stroke="#000" stroke-width="4.6" stroke-linecap="butt" />
<line x1="739.580263547348" y1="650.0219037056012" x2="747.1197364526521" y2="692.1780962943989" stroke="#fff" stroke-width="9.0" stroke-linecap="butt" />
<line x1="738.7" y1="645.1" x2="748" y2="697.1" stroke="#000" stroke-width="4.6" stroke-linecap="butt" />
<line x1="665.2400213123134" y1="673.0491205157784" x2="676.5599786876866" y2="701.6508794842215" stroke="#fff" stroke-width="9.0" stroke-linecap="butt" />
<line x1="663.4" y1="668.4" x2="678.4" y2="706.3" stroke="#000" stroke-width="4.6" stroke-linecap="butt" />
<line x1="807.9029720972891" y1="673.1991321396923" x2="819.5970279027109" y2="713.2008678603077" stroke="#fff" stroke-width="9.0" stroke-linecap="butt" />
<line x1="806.5" y1="668.4" x2="821" y2="718" stroke="#000" stroke-width="4.6" stroke-linecap="butt" />
<line x1="698.1418584882531" y1="715.6397140787303" x2="728.558141511747" y2="710.9602859212697" stroke="#fff" stroke-width="9.0" stroke-linecap="butt" />
<line x1="693.2" y1="716.4" x2="733.5" y2="710.2" stroke="#000" stroke-width="4.6" stroke-linecap="butt" />
<line x1="770.6107238748286" y1="715.4626943164751" x2="807.5892761251713" y2="725.9373056835249" stroke="#fff" stroke-width="9.0" stroke-linecap="butt" />
<line x1="765.8" y1="714.1" x2="812.4" y2="727.3" stroke="#000" stroke-width="4.6" stroke-linecap="butt" />
<line x1="678.13942437329" y1="735.9862234230568" x2="666.2605756267101" y2="790.7137765769432" stroke="#fff" stroke-width="9.0" stroke-linecap="butt" />
<line x1="679.2" y1="731.1" x2="665.2" y2="795.6" stroke="#000" stroke-width="4.6" stroke-linecap="butt" />
<line x1="748.3371532520088" y1="728.3868168441875" x2="745.1628467479912" y2="772.0131831558125" stroke="#fff" stroke-width="9.0" stroke-linecap="butt" />
<line x1="748.7" y1="723.4" x2="744.8" y2="777" stroke="#000" stroke-width="4.6" stroke-linecap="butt" />
<line x1="818.1873218748183" y1="747.6507125007266" x2="807.4126781251817" y2="790.7492874992734" stroke="#fff" stroke-width="9.0" stroke-linecap="butt" />
<line x1="819.4" y1="742.8" x2="806.2" y2="795.6" stroke="#000" stroke-width="4.6" stroke-linecap="butt" />
<line x1="684.9554969490678" y1="802.9066227010734" x2="728.5445030509322" y2="792.1933772989266" stroke="#fff" stroke-width="9.0" stroke-linecap="butt" />
<line x1="680.1" y1="804.1" x2="733.4" y2="791" stroke="#000" stroke-width="4.6" stroke-linecap="butt" />
<line x1="759.8434164902526" y1="794.0811388300842" x2="780.6565835097474" y2="801.0188611699158" stroke="#fff" stroke-width="9.0" stroke-linecap="butt" />
<line x1="755.1" y1="792.5" x2="785.4" y2="802.6" stroke="#000" stroke-width="4.6" stroke-linecap="butt" />
<line x1="818.8" y1="799.5" x2="856.4" y2="782" stroke="#6a6a6a" stroke-width="2.1" stroke-linecap="butt" stroke-dasharray="3 2.5"/>
<line x1="814.9" y1="811.1" x2="858.7" y2="824" stroke="#6a6a6a" stroke-width="2.1" stroke-linecap="butt" stroke-dasharray="3 2.5"/>
<line x1="909.8000000000001" y1="766.5" x2="909.8000000000001" y2="789.0" stroke="#3a3a3a" stroke-width="1.7" stroke-linecap="butt" />
<line x1="915.6" y1="766.5" x2="915.6" y2="789.0" stroke="#3a3a3a" stroke-width="1.7" stroke-linecap="butt" />
<line x1="898.4693316063313" y1="794.4693654763856" x2="898.1306683936687" y2="795.9306345236145" stroke="#333" stroke-width="1.1" stroke-linecap="butt" />
<line x1="895.6344419258996" y1="793.4594913197291" x2="895.1405580741002" y2="795.5905086802711" stroke="#333" stroke-width="1.1" stroke-linecap="butt" />
<line x1="892.7995522454681" y1="792.4496171630724" x2="892.1504477545317" y2="795.2503828369277" stroke="#333" stroke-width="1.1" stroke-linecap="butt" />
<line x1="889.9646625650367" y1="791.4397430064157" x2="889.1603374349633" y2="794.9102569935842" stroke="#333" stroke-width="1.1" stroke-linecap="butt" />
<line x1="887.1297728846051" y1="790.4298688497591" x2="886.1702271153948" y2="794.5701311502409" stroke="#333" stroke-width="1.1" stroke-linecap="butt" />
<line x1="884.2948832041736" y1="789.4199946931026" x2="883.1801167958263" y2="794.2300053068975" stroke="#333" stroke-width="1.1" stroke-linecap="butt" />
<line x1="881.4599935237422" y1="788.4101205364459" x2="880.1900064762578" y2="793.889879463554" stroke="#333" stroke-width="1.1" stroke-linecap="butt" />
<line x1="878.6251038433106" y1="787.4002463797892" x2="877.1998961566894" y2="793.5497536202106" stroke="#333" stroke-width="1.1" stroke-linecap="butt" />
<line x1="875.7902141628791" y1="786.3903722231327" x2="874.2097858371209" y2="793.2096277768673" stroke="#333" stroke-width="1.1" stroke-linecap="butt" />
<line x1="881.3519358723478" y1="823.9835074729589" x2="901.5519358723477" y2="809.9835074729589" stroke="#3a3a3a" stroke-width="1.7" stroke-linecap="butt" />
<line x1="878.0480641276523" y1="819.2164925270412" x2="898.2480641276522" y2="805.2164925270412" stroke="#3a3a3a" stroke-width="1.7" stroke-linecap="butt" />
<polygon points="927.6,809.5 945.9,822.4 948.5,817.6 928.0,808.9" fill="#000"/>
<text x="547.8" y="593.5" font-size="25" text-anchor="middle" fill="#ff0000" stroke="#ff0000" stroke-width="0.85" font-family="'Liberation Sans', Arial, Helvetica, sans-serif">O</text>
<text x="549.4" y="639.5" font-size="24" font-weight="bold" text-anchor="middle" fill="#000" stroke="#000" stroke-width="0.4" font-family="'Liberation Sans', Arial, Helvetica, sans-serif">Se</text>
<text x="594.0" y="625.2" font-size="25" text-anchor="middle" fill="#ff0000" stroke="#ff0000" stroke-width="0.85" font-family="'Liberation Sans', Arial, Helvetica, sans-serif">O</text>
<text x="591.0" y="669.0" font-size="25" text-anchor="middle" fill="#ff0000" stroke="#ff0000" stroke-width="0.85" font-family="'Liberation Sans', Arial, Helvetica, sans-serif">O</text>
<text x="504.4" y="664.8" font-size="25" text-anchor="middle" fill="#ff0000" stroke="#ff0000" stroke-width="0.85" font-family="'Liberation Sans', Arial, Helvetica, sans-serif">O</text>
<text x="734.4" y="618.6" font-size="25" text-anchor="middle" fill="#ff0000" stroke="#ff0000" stroke-width="0.85" font-family="'Liberation Sans', Arial, Helvetica, sans-serif">H</text>
<text x="735.5" y="641.7" font-size="25" text-anchor="middle" fill="#ff0000" stroke="#ff0000" stroke-width="0.85" font-family="'Liberation Sans', Arial, Helvetica, sans-serif">O</text>
<text x="656.8" y="662.2" font-size="31" text-anchor="middle" fill="#a00fa0" font-family="'Liberation Sans', Arial, Helvetica, sans-serif" stroke="#a00fa0" stroke-width="1.15">Zr</text>
<text font-size="25" fill="#ff0000" stroke="#ff0000" stroke-width="0.85" font-family="'Liberation Sans', Arial, Helvetica, sans-serif" text-anchor="middle"><tspan x="802.2" y="622.0">H</tspan><tspan x="815.4" y="626.5" font-size="17.5" stroke-width="0.6">2</tspan><tspan x="829.75" y="622.0">O</tspan></text>
<text x="802.2" y="662.2" font-size="31" text-anchor="middle" fill="#a00fa0" font-family="'Liberation Sans', Arial, Helvetica, sans-serif" stroke="#a00fa0" stroke-width="1.15">Zr</text>
<text font-size="25" fill="#ff0000" stroke="#ff0000" stroke-width="0.85" font-family="'Liberation Sans', Arial, Helvetica, sans-serif" text-anchor="middle"><tspan x="848.85" y="661.0">O</tspan><tspan x="866.65" y="661.0">H</tspan><tspan x="880.25" y="665.5" font-size="17.5" stroke-width="0.6">2</tspan></text>
<text x="719.7" y="682.8" font-size="25" text-anchor="middle" fill="#ff0000" stroke="#ff0000" stroke-width="0.85" font-family="'Liberation Sans', Arial, Helvetica, sans-serif">O</text>
<text font-size="25" fill="#ff0000" stroke="#ff0000" stroke-width="0.85" font-family="'Liberation Sans', Arial, Helvetica, sans-serif" text-anchor="middle"><tspan x="619.4" y="739.5">H</tspan><tspan x="636.85" y="739.5">O</tspan></text>
<text x="680.7" y="726.6" font-size="25" text-anchor="middle" fill="#ff0000" stroke="#ff0000" stroke-width="0.85" font-family="'Liberation Sans', Arial, Helvetica, sans-serif">O</text>
<text x="713.3" y="751.3" font-size="31" text-anchor="middle" fill="#a00fa0" font-family="'Liberation Sans', Arial, Helvetica, sans-serif" stroke="#a00fa0" stroke-width="1.15">Zr</text>
<text x="748.8" y="718.7" font-size="31" text-anchor="middle" fill="#a00fa0" font-family="'Liberation Sans', Arial, Helvetica, sans-serif" stroke="#a00fa0" stroke-width="1.15">Zr</text>
<text font-size="25" fill="#ff0000" stroke="#ff0000" stroke-width="0.85" font-family="'Liberation Sans', Arial, Helvetica, sans-serif" text-anchor="middle"><tspan x="784.85" y="751.0">O</tspan><tspan x="802.25" y="751.0">H</tspan></text>
<text x="821.3" y="739.0" font-size="25" text-anchor="middle" fill="#ff0000" stroke="#ff0000" stroke-width="0.85" font-family="'Liberation Sans', Arial, Helvetica, sans-serif">O</text>
<text x="743.0" y="798.6" font-size="25" text-anchor="middle" fill="#ff0000" stroke="#ff0000" stroke-width="0.85" font-family="'Liberation Sans', Arial, Helvetica, sans-serif">O</text>
<text x="742.7" y="820.4" font-size="25" text-anchor="middle" fill="#ff0000" stroke="#ff0000" stroke-width="0.85" font-family="'Liberation Sans', Arial, Helvetica, sans-serif">H</text>
<text x="660.7" y="818.0" font-size="31" text-anchor="middle" fill="#a00fa0" font-family="'Liberation Sans', Arial, Helvetica, sans-serif" stroke="#a00fa0" stroke-width="1.15">Zr</text>
<text font-size="25" fill="#ff0000" stroke="#ff0000" stroke-width="0.85" font-family="'Liberation Sans', Arial, Helvetica, sans-serif" text-anchor="middle"><tspan x="595.9" y="817.6">H</tspan><tspan x="609.3" y="822.1" font-size="17.5" stroke-width="0.6">2</tspan><tspan x="623.8" y="817.6">O</tspan></text>
<text font-size="25" fill="#ff0000" stroke="#ff0000" stroke-width="0.85" font-family="'Liberation Sans', Arial, Helvetica, sans-serif" text-anchor="middle"><tspan x="660.15" y="855.8">O</tspan><tspan x="678.6" y="855.8">H</tspan><tspan x="692.4" y="860.3" font-size="17.5" stroke-width="0.6">2</tspan></text>
<text x="801.7" y="817.4" font-size="31" text-anchor="middle" fill="#a00fa0" font-family="'Liberation Sans', Arial, Helvetica, sans-serif" stroke="#a00fa0" stroke-width="1.15">Zr</text>
<text x="727.4" y="843.0" font-size="25" text-anchor="middle" fill="#ff0000" stroke="#ff0000" stroke-width="0.85" font-family="'Liberation Sans', Arial, Helvetica, sans-serif">O</text>
<text x="913.4" y="762.7" font-size="25" text-anchor="middle" fill="#ff0000" stroke="#ff0000" stroke-width="0.85" font-family="'Liberation Sans', Arial, Helvetica, sans-serif">O</text>
<text x="912.3" y="809.2" font-size="24" font-weight="bold" text-anchor="middle" fill="#000" stroke="#000" stroke-width="0.4" font-family="'Liberation Sans', Arial, Helvetica, sans-serif">Se</text>
<text x="865.3" y="794.5" font-size="25" text-anchor="middle" fill="#ff0000" stroke="#ff0000" stroke-width="0.85" font-family="'Liberation Sans', Arial, Helvetica, sans-serif">O</text>
<text x="869.2" y="838.0" font-size="25" text-anchor="middle" fill="#ff0000" stroke="#ff0000" stroke-width="0.85" font-family="'Liberation Sans', Arial, Helvetica, sans-serif">O</text>
<text x="956.2" y="834.1" font-size="25" text-anchor="middle" fill="#ff0000" stroke="#ff0000" stroke-width="0.85" font-family="'Liberation Sans', Arial, Helvetica, sans-serif">O</text>
<text x="63" y="536" font-size="36" letter-spacing="0.8" fill="#222" font-family="'Liberation Serif', 'Times New Roman', serif">(<tspan stroke="#222" stroke-width="0.7">c</tspan>)</text>
<text font-size="36" fill="#333" font-family="'Liberation Sans', Arial, Helvetica, sans-serif" text-anchor="middle"><tspan x="248.6" y="1050">η</tspan><tspan x="263.4" y="1055.5" font-size="23">2</tspan><tspan x="279.8" y="1050">μ</tspan><tspan x="296.9" y="1055.5" font-size="23">2</tspan></text>
<text x="695.5" y="1050" font-size="36" fill="#333" font-family="'Liberation Sans', Arial, Helvetica, sans-serif" letter-spacing="-1.0">μ<tspan font-size="24" dy="4">2</tspan></text>
</svg>
</body></html>
